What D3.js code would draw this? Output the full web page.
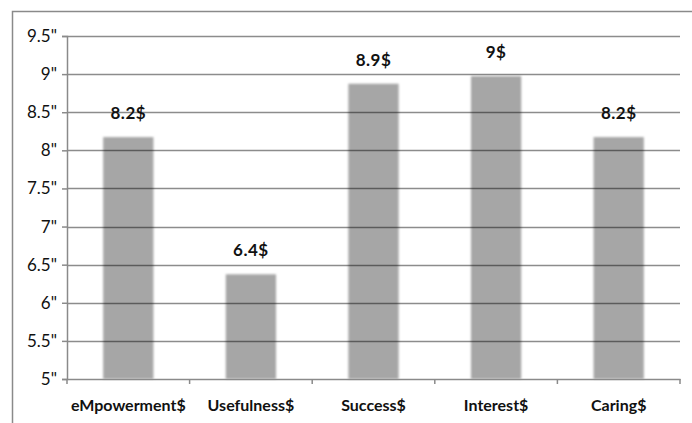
<!DOCTYPE html>
<html>
<head>
<meta charset="utf-8">
<script src="https://cdn.jsdelivr.net/npm/d3@7"></script>
<style>
  body { margin: 0; background: #fff; }
  svg text { font-family: Lato, "Open Sans", sans-serif; }
</style>
</head>
<body>
<div id="chart"></div>
<script>
// data
const categories = ["eMpowerment$", "Usefulness$", "Success$", "Interest$", "Caring$"];
const values = [8.2, 6.4, 8.9, 9, 8.2];
const valueLabels = ["8.2$", "6.4$", "8.9$", "9$", "8.2$"];
const yTicks = [5, 5.5, 6, 6.5, 7, 7.5, 8, 8.5, 9, 9.5];

const W = 692, H = 423;
const margin = { top: 36, right: 12, bottom: 44, left: 67 };
const width = W - margin.left - margin.right,
  height = H - margin.top - margin.bottom;

const svg = d3.select("#chart").append("svg")
  .attr("width", W)
  .attr("height", H);

// soft edge on the bars
const defs = svg.append("defs");
defs.append("filter").attr("id", "soft")
  .attr("x", "-20%").attr("y", "-20%").attr("width", "140%").attr("height", "140%")
  .append("feGaussianBlur").attr("stdDeviation", 1.3);

// outer frame (right and bottom sides fall outside the picture)
svg.append("rect")
  .attr("x", 12.5).attr("y", 11.5)
  .attr("width", 700).attr("height", 430)
  .attr("fill", "none")
  .attr("stroke", "#8a8a8a")
  .attr("stroke-width", 1.5);

const g = svg.append("g")
  .attr("transform", "translate(" + margin.left + "," + margin.top + ")");

const x = d3.scaleBand()
  .domain(categories)
  .range([0, width])
  .paddingInner(0.59)
  .paddingOuter(0.295);

const y = d3.scaleLinear()
  .domain([5, 9.5])
  .range([height, 0]);

const inset = 2; // soft edge eats a bit off the top

// bars
g.selectAll(".bar")
  .data(values)
  .enter()
  .append("rect")
  .attr("class", "bar")
  .attr("x", (d, i) => x(categories[i]))
  .attr("y", d => y(d) + inset)
  .attr("width", x.bandwidth())
  .attr("height", d => height - y(d) - inset)
  .attr("fill", "#a6a6a6")
  .attr("filter", "url(#soft)");

// gridlines over the bars
g.selectAll(".grid")
  .data(yTicks.filter(t => t > 5))
  .enter()
  .append("line")
  .attr("x1", 0).attr("x2", width)
  .attr("y1", d => Math.round(y(d)) + 0.5)
  .attr("y2", d => Math.round(y(d)) + 0.5)
  .attr("stroke", "#000")
  .attr("stroke-opacity", 0.45)
  .attr("stroke-width", 1.5);

// y axis
const yAxis = g.append("g")
  .call(d3.axisLeft(y).tickValues(yTicks).tickSize(5).tickPadding(5)
    .tickFormat(d => d + "\""));
yAxis.selectAll("path, line").attr("stroke", "#8a8a8a").attr("stroke-width", 1.5);
yAxis.selectAll("text")
  .attr("font-size", "17px")
  .attr("fill", "#111")
  .style("font-family", "Lato, sans-serif");

// x axis
const xAxis = g.append("g")
  .attr("transform", "translate(0," + height + ")")
  .call(d3.axisBottom(x).tickSize(0).tickPadding(21));
xAxis.select(".domain").attr("stroke", "#8a8a8a").attr("stroke-width", 1.5);
xAxis.selectAll("text")
  .attr("font-size", "16px")
  .attr("font-weight", "bold")
  .attr("fill", "#111")
  .style("font-family", "Lato, sans-serif");

// tick marks between categories
const bounds = d3.range(categories.length + 1).map(i => i * width / categories.length);
g.selectAll(".xtick")
  .data(bounds)
  .enter()
  .append("line")
  .attr("x1", d => d).attr("x2", d => d)
  .attr("y1", height).attr("y2", height + 5)
  .attr("stroke", "#8a8a8a")
  .attr("stroke-width", 1.5);

// value labels
g.selectAll(".lbl")
  .data(values)
  .enter()
  .append("text")
  .attr("x", (d, i) => x(categories[i]) + x.bandwidth() / 2)
  .attr("y", d => y(d) + inset - 18)
  .attr("text-anchor", "middle")
  .attr("font-size", "17px")
  .attr("font-weight", "bold")
  .attr("letter-spacing", "0.5px")
  .attr("fill", "#111")
  .text((d, i) => valueLabels[i]);
</script>
</body>
</html>
